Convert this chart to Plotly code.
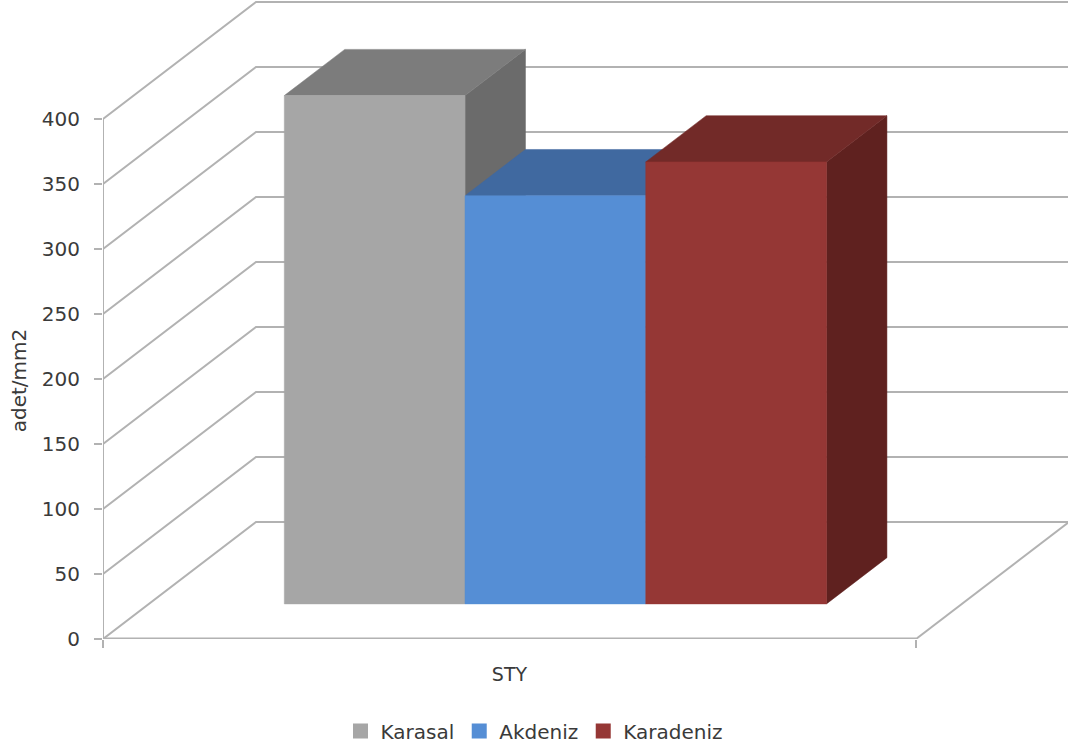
import plotly.graph_objects as go

# ---- data ----
series = ["Karasal", "Akdeniz", "Karadeniz"]
values = [391, 314, 340]
front_colors = ["#A6A6A6", "#558ED5", "#953735"]
top_colors = ["#7C7C7C", "#4069A0", "#722A28"]
side_colors = ["#6B6B6B", "#3F6797", "#5F211F"]
category = "STY"
y_ticks = [0, 50, 100, 150, 200, 250, 300, 350, 400]

# ---- oblique projection of the 3D box ----
DX = 153 / 813       # horizontal shift of the full depth, in x units
DY = 117 / 1.3       # vertical shift of the full depth, in value units
D0, D1 = 0.30, 0.695 # depth range of the bars
BAR_W = 0.2223
GRID = "#B2B2B2"
TEXT = "#3A3A3A"
FONT = "DejaVu Sans"


def proj(x, v, d):
    return x + DX * d, v + DY * d


def poly(points, color, name):
    xs, ys = zip(*[proj(*p) for p in points])
    return go.Scatter(
        x=list(xs) + [xs[0]], y=list(ys) + [ys[0]], mode="lines", fill="toself",
        fillcolor=color, line=dict(color=color, width=0.5), hoverinfo="skip",
        showlegend=False, cliponaxis=False, name=name,
    )


def line(points, width=2):
    xs, ys = zip(*[proj(*p) for p in points])
    return go.Scatter(x=xs, y=ys, mode="lines", line=dict(color=GRID, width=width),
                      hoverinfo="skip", showlegend=False, cliponaxis=False)


fig = go.Figure()

# walls and floor
for t in y_ticks:
    fig.add_trace(line([(0, t, 0), (0, t, 1), (1, t, 1)]))
fig.add_trace(line([(1, 0, 1), (1, 0, 0)]))
fig.add_trace(line([(0, 0, 0), (1, 0, 0)], 3))
fig.add_trace(line([(0, 0, 0), (0, max(y_ticks), 0)]))

# boxes: side and top faces first, front faces last
for i, (n, v) in enumerate(zip(series, values)):
    x0 = 0.5 - 1.5 * BAR_W + i * BAR_W
    x1 = x0 + BAR_W
    fig.add_trace(poly([(x1, 0, D0), (x1, 0, D1), (x1, v, D1), (x1, v, D0)], side_colors[i], n))
    fig.add_trace(poly([(x0, v, D0), (x0, v, D1), (x1, v, D1), (x1, v, D0)], top_colors[i], n))
for i, (n, v) in enumerate(zip(series, values)):
    x0 = 0.5 - 1.5 * BAR_W + i * BAR_W
    x1 = x0 + BAR_W
    fig.add_trace(poly([(x0, 0, D0), (x1, 0, D0), (x1, v, D0), (x0, v, D0)], front_colors[i], n))

# legend entries
for n, c in zip(series, front_colors):
    fig.add_trace(go.Scatter(x=[None], y=[None], mode="markers", name=n,
                             marker=dict(symbol="square", size=15, color=c)))

fig.add_annotation(text="adet/mm2", textangle=-90, xref="paper", yref="y",
                   x=-84 / 965, xanchor="center", y=199, showarrow=False,
                   font=dict(family=FONT, size=20, color=TEXT))

fig.update_layout(
    width=1068, height=749, autosize=False,
    margin=dict(l=103, r=0, t=0, b=110, autoexpand=False),
    paper_bgcolor="white", plot_bgcolor="white",
    font=dict(family=FONT, size=20, color=TEXT),
    xaxis=dict(range=[0, 965 / 813], tickvals=[0.5], ticktext=[category], ticks="",
               showgrid=False, zeroline=False, showline=False, ticklabelstandoff=22,
               tickfont=dict(size=19),
               minor=dict(tickvals=[0, 1], ticks="outside", ticklen=8, tickcolor=GRID, tickwidth=2)),
    yaxis=dict(range=[0, 639 / 1.3], tickvals=y_ticks, ticks="outside", ticklen=8,
               tickcolor=GRID, tickwidth=2, showgrid=False, zeroline=False, showline=False,
               ticklabelstandoff=10),
    legend=dict(orientation="h", x=431 / 965, xanchor="center",
                y=-92 / 639, yanchor="middle", font=dict(size=20), itemwidth=30),
)

fig.write_html("out.html", config={"displayModeBar": False},
               post_script="document.body.style.margin='0';")
